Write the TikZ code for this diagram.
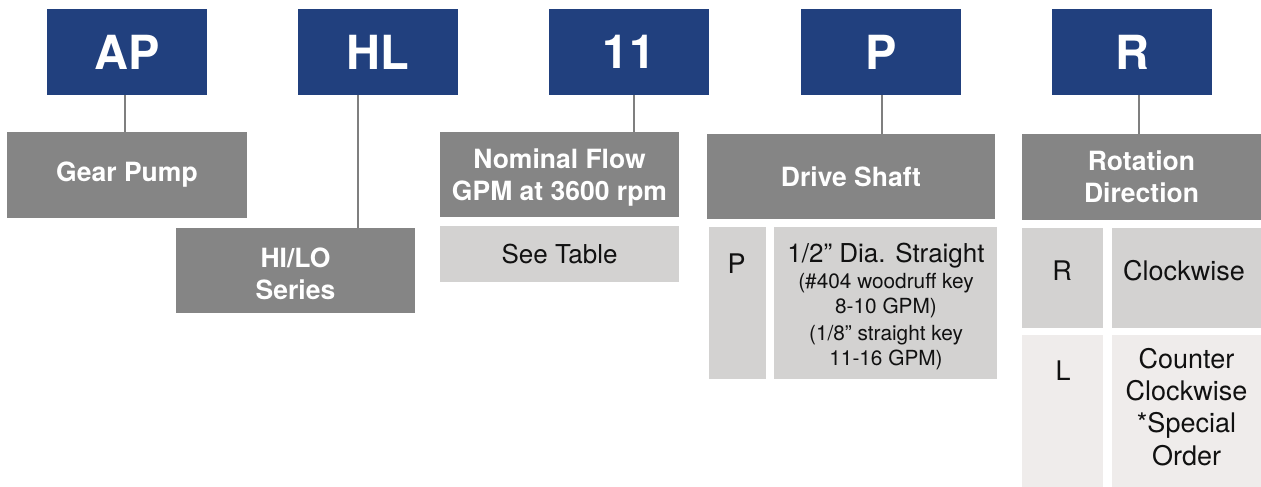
\documentclass[tikz,border=0pt]{standalone}
\usepackage{fontspec}
\setmainfont{TeX Gyre Heros}
\definecolor{codeblue}{HTML}{21407E}
\definecolor{headgrey}{HTML}{858585}
\definecolor{optgrey}{HTML}{D3D2D1}
\definecolor{optlight}{HTML}{EFECEB}
\definecolor{linkgrey}{HTML}{7F7F7F}
\definecolor{ink}{HTML}{111111}
\tikzset{
  codebox/.style={fill=codeblue, text=white, font=\bfseries\fontsize{47}{56}\selectfont,
    minimum width=160pt, minimum height=86pt, inner sep=0pt, outer sep=0pt},
  headbox/.style={fill=headgrey, text=white, font=\bfseries\fontsize{26.5}{32}\selectfont,
    align=center, inner sep=0pt, outer sep=0pt},
  optbox/.style={fill=optgrey, text=ink, inner sep=0pt, outer sep=0pt},
  optlbox/.style={fill=optlight, text=ink, inner sep=0pt, outer sep=0pt},
  lbl/.style={anchor=base, text=ink, font=\fontsize{27}{32}\selectfont, inner sep=0pt},
  smalllbl/.style={anchor=base, text=ink, font=\fontsize{20.8}{25}\selectfont, inner sep=0pt},
  link/.style={draw=linkgrey, line width=2.4pt}
}
\begin{document}
\begin{tikzpicture}[x=1pt,y=-1pt]
\useasboundingbox (0,0) rectangle (1261,487);
% code boxes
\node[codebox] (ap) at (127,52) {AP};
\node[codebox] (hl) at (378,52) {HL};
\node[codebox] (c11) at (629,52) {11};
\node[codebox] (cp) at (881,52) {P};
\node[codebox] (cr) at (1132,52) {R};
% heading boxes
\node[headbox, minimum width=240pt, minimum height=86pt] (gp) at (127,175) {Gear Pump};
\node[headbox, minimum width=239pt, minimum height=85pt] (hilo) at (295.5,270.5) {};
\node[headbox] (hilot) at (295.5,273.5) {HI/LO\\Series};
\node[headbox, minimum width=239pt, minimum height=85pt] (nf) at (559.5,174.5) {};
\node[headbox] (nft) at (559.5,177.5) {Nominal Flow\\GPM at 3600 rpm};
\node[headbox, minimum width=288pt, minimum height=85pt] (ds) at (851,176.5) {Drive Shaft};
\node[headbox, minimum width=239pt, minimum height=86pt] (rd) at (1141.5,177) {Rotation\\Direction};
% option boxes
\node[optbox, minimum width=239pt, minimum height=56pt, font=\fontsize{26}{30}\selectfont] (st) at (559.5,254) {See Table};
\node[optbox, minimum width=57pt, minimum height=152pt] (pbox) at (737.5,303) {};
\node[optbox, minimum width=223pt, minimum height=152pt] (pdesc) at (885.5,303) {};
\node[optbox, minimum width=81pt, minimum height=100pt] (rbox) at (1062.5,278) {};
\node[optbox, minimum width=149pt, minimum height=100pt] (rdesc) at (1186.5,278) {};
\node[optlbox, minimum width=81pt, minimum height=152pt] (lbox) at (1062.5,411) {};
\node[optlbox, minimum width=149pt, minimum height=152pt] (ldesc) at (1186.5,411) {};
% connectors
\draw[link] ([xshift=-2pt]ap.south) -- ([xshift=-2pt]ap.south |- gp.north);
\draw[link] ([xshift=-20pt]hl.south) -- ([xshift=-20pt]hl.south |- hilo.north);
\draw[link] ([xshift=5pt]c11.south) -- ([xshift=5pt]c11.south |- nf.north);
\draw[link] ([xshift=1pt]cp.south) -- ([xshift=1pt]cp.south |- ds.north);
\draw[link] ([xshift=7pt]cr.south) -- ([xshift=7pt]cr.south |- rd.north);
% option texts
\node[lbl] (pl) at (736.5,273) {P};
\node[lbl, font=\fontsize{26}{30}\selectfont] (pd1) at (886,262) {1/2” Dia. Straight};
\node[smalllbl] (pd2) at (886,288) {(\#404 woodruff key};
\node[smalllbl] (pd3) at (886,313) {8-10 GPM)};
\node[smalllbl] (pd4) at (886,340) {(1/8” straight key};
\node[smalllbl] (pd5) at (886,365) {11-16 GPM)};
\node[lbl] (rl) at (1062,280) {R};
\node[lbl] (rdl) at (1184,280) {Clockwise};
\node[lbl] (ll) at (1063,380) {L};
\node[lbl] (ld1) at (1186.5,368) {Counter};
\node[lbl] (ld2) at (1186.5,400) {Clockwise};
\node[lbl] (ld3) at (1186.5,432) {*Special};
\node[lbl] (ld4) at (1186.5,465) {Order};
\end{tikzpicture}
\end{document}
